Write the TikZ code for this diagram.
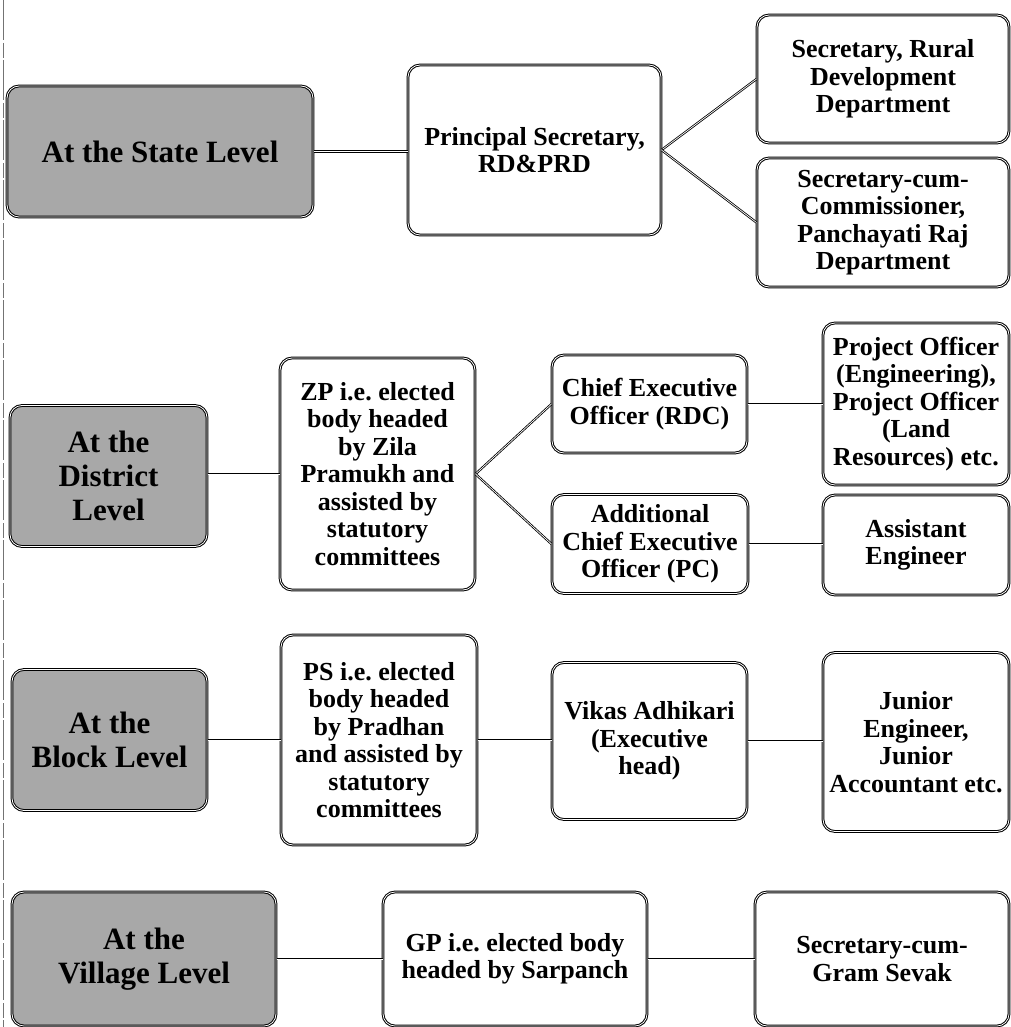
\documentclass[tikz,border=0pt]{standalone}
\usepackage{fontspec}
\setmainfont{Liberation Serif}
\tikzset{
  box/.style={draw=black, line width=1pt, double=white, double distance=0.8pt,
    rounded corners=12pt, align=center, inner sep=0pt, fill=white,
    font=\fontsize{26}{27.5}\selectfont\bfseries\frenchspacing},
  lvl/.style={box, fill=black!34,
    font=\fontsize{31}{34}\selectfont\bfseries\frenchspacing},
  conn/.style={draw=black, line width=0.8pt, double=white, double distance=0.7pt},
}
\begin{document}
\begin{tikzpicture}[x=1pt,y=-1pt]
\fill[white] (0,0) rectangle (1010,1027);
\useasboundingbox (0,0) rectangle (1010,1027);
\draw[black!55, line width=0.6pt, dash pattern=on 40pt off 3pt on 15pt off 2pt] (3,0) -- (3,1027);

% Row 1: State
\node[lvl, minimum width=306pt, minimum height=131pt] (state) at (160,151.5) {At the State Level};
\node[box, minimum width=253pt, minimum height=170pt] (principal) at (534.5,150) {Principal Secretary,\\RD\&PRD};
\node[box, minimum width=252pt, minimum height=128pt] (secrd) at (883,79) {Secretary, Rural\\Development\\Department};
\node[box, minimum width=252pt, minimum height=129pt] (seccum) at (883,222.5) {Secretary-cum-\\Commissioner,\\Panchayati Raj\\Department};

% Row 2: District
\node[lvl, minimum width=197pt, minimum height=141pt] (district) at (108.5,476) {At the\\District\\Level};
\node[box, minimum width=195pt, minimum height=232pt] (zp) at (377.5,474) {ZP i.e. elected\\body headed\\by Zila\\Pramukh and\\assisted by\\statutory\\committees};
\node[box, minimum width=195pt, minimum height=98pt] (ceo) at (649.5,404) {Chief Executive\\Officer (RDC)};
\node[box, minimum width=186pt, minimum height=162pt] (po) at (916,404) {Project Officer\\(Engineering),\\Project Officer\\(Land\\Resources) etc.};
\node[box, minimum width=196pt, minimum height=99pt] (aceo) at (650,544) {Additional\\Chief Executive\\Officer (PC)};
\node[box, minimum width=186pt, minimum height=100pt] (ae) at (916,545) {Assistant\\Engineer};

% Row 3: Block
\node[lvl, minimum width=195pt, minimum height=141pt] (block) at (109.5,740) {At the\\Block Level};
\node[box, minimum width=196pt, minimum height=210pt] (ps) at (379,740) {PS i.e. elected\\body headed\\by Pradhan\\and assisted by\\statutory\\committees};
\node[box, minimum width=195pt, minimum height=157pt] (vikas) at (649.5,741) {Vikas Adhikari\\(Executive\\head)};
\node[box, minimum width=186pt, minimum height=179pt] (junior) at (916,742) {Junior\\Engineer,\\Junior\\Accountant etc.};

% Row 4: Village
\node[lvl, minimum width=264pt, minimum height=134pt] (village) at (144,959) {At the\\Village Level};
\node[box, minimum width=264pt, minimum height=134pt] (gp) at (515,959) {GP i.e. elected body\\headed by Sarpanch};
\node[box, minimum width=254pt, minimum height=134pt] (secgram) at (882,959) {Secretary-cum-\\Gram Sevak};

% Connectors
\draw[conn] (state.east) -- (state.east -| principal.west);
\draw[conn] (principal.east) -- (secrd.west);
\draw[conn] (principal.east) -- (seccum.west);

\draw[conn] (zp.west -| district.east) -- (zp.west);
\draw[conn] (zp.east) -- (ceo.west);
\draw[conn] (zp.east) -- (aceo.west);
\draw[conn] (ceo.east) -- (po.west);
\draw[conn] (aceo.east) -- (aceo.east -| ae.west);

\draw[conn] (block.east) -- (block.east -| ps.west);
\draw[conn] (ps.east) -- (ps.east -| vikas.west);
\draw[conn] (vikas.east) -- (vikas.east -| junior.west);

\draw[conn] (village.east) -- (gp.west);
\draw[conn] (gp.east) -- (secgram.west);
\end{tikzpicture}
\end{document}
